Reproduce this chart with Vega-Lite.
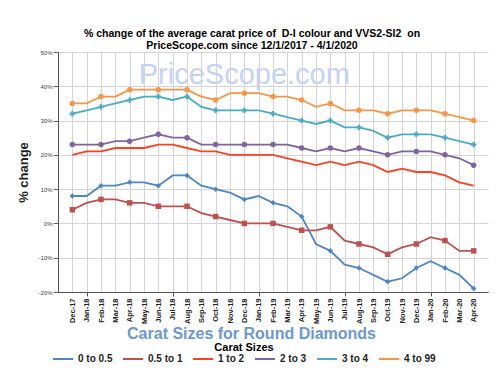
{
  "$schema": "https://vega.github.io/schema/vega-lite/v6.json",
  "width": 430,
  "height": 240,
  "autosize": {"type": "none"},
  "padding": {"left": 58, "top": 52, "right": 12, "bottom": 84},
  "background": "white",
  "config": {"font": "Liberation Sans", "view": {"stroke": null}},
  "title": {
    "text": ["% change of the average carat price of \u00a0D-I colour and VVS2-SI2 \u00a0on", "PriceScope.com since 12/1/2017 - 4/1/2020"],
    "fontSize": 10.5, "fontWeight": "bold", "color": "#000", "lineHeight": 12,
    "anchor": "middle", "dx": -21, "offset": -2
  },
  "data": {"values": [
    {"m":"Dec-17","s":"0 to 0.5","v":8},{"m":"Jan-18","s":"0 to 0.5","v":8},{"m":"Feb-18","s":"0 to 0.5","v":11},{"m":"Mar-18","s":"0 to 0.5","v":11},{"m":"Apr-18","s":"0 to 0.5","v":12},{"m":"May-18","s":"0 to 0.5","v":12},{"m":"Jun-18","s":"0 to 0.5","v":11},{"m":"Jul-18","s":"0 to 0.5","v":14},{"m":"Aug-18","s":"0 to 0.5","v":14},{"m":"Sep-18","s":"0 to 0.5","v":11},{"m":"Oct-18","s":"0 to 0.5","v":10},{"m":"Nov-18","s":"0 to 0.5","v":9},{"m":"Dec-18","s":"0 to 0.5","v":7},{"m":"Jan-19","s":"0 to 0.5","v":8},{"m":"Feb-19","s":"0 to 0.5","v":6},{"m":"Mar-19","s":"0 to 0.5","v":5},{"m":"Apr-19","s":"0 to 0.5","v":2},{"m":"May-19","s":"0 to 0.5","v":-6},{"m":"Jun-19","s":"0 to 0.5","v":-8},{"m":"Jul-19","s":"0 to 0.5","v":-12},{"m":"Aug-19","s":"0 to 0.5","v":-13},{"m":"Sep-19","s":"0 to 0.5","v":-15},{"m":"Oct-19","s":"0 to 0.5","v":-17},{"m":"Nov-19","s":"0 to 0.5","v":-16},{"m":"Dec-19","s":"0 to 0.5","v":-13},{"m":"Jan-20","s":"0 to 0.5","v":-11},{"m":"Feb-20","s":"0 to 0.5","v":-13},{"m":"Mar-20","s":"0 to 0.5","v":-15},{"m":"Apr-20","s":"0 to 0.5","v":-19},
    {"m":"Dec-17","s":"0.5 to 1","v":4},{"m":"Jan-18","s":"0.5 to 1","v":6},{"m":"Feb-18","s":"0.5 to 1","v":7},{"m":"Mar-18","s":"0.5 to 1","v":7},{"m":"Apr-18","s":"0.5 to 1","v":6},{"m":"May-18","s":"0.5 to 1","v":6},{"m":"Jun-18","s":"0.5 to 1","v":5},{"m":"Jul-18","s":"0.5 to 1","v":5},{"m":"Aug-18","s":"0.5 to 1","v":5},{"m":"Sep-18","s":"0.5 to 1","v":3},{"m":"Oct-18","s":"0.5 to 1","v":2},{"m":"Nov-18","s":"0.5 to 1","v":1},{"m":"Dec-18","s":"0.5 to 1","v":0},{"m":"Jan-19","s":"0.5 to 1","v":0},{"m":"Feb-19","s":"0.5 to 1","v":0},{"m":"Mar-19","s":"0.5 to 1","v":-1},{"m":"Apr-19","s":"0.5 to 1","v":-2},{"m":"May-19","s":"0.5 to 1","v":-2},{"m":"Jun-19","s":"0.5 to 1","v":-1},{"m":"Jul-19","s":"0.5 to 1","v":-5},{"m":"Aug-19","s":"0.5 to 1","v":-6},{"m":"Sep-19","s":"0.5 to 1","v":-7},{"m":"Oct-19","s":"0.5 to 1","v":-9},{"m":"Nov-19","s":"0.5 to 1","v":-7},{"m":"Dec-19","s":"0.5 to 1","v":-6},{"m":"Jan-20","s":"0.5 to 1","v":-4},{"m":"Feb-20","s":"0.5 to 1","v":-5},{"m":"Mar-20","s":"0.5 to 1","v":-8},{"m":"Apr-20","s":"0.5 to 1","v":-8},
    {"m":"Dec-17","s":"1 to 2","v":20},{"m":"Jan-18","s":"1 to 2","v":21},{"m":"Feb-18","s":"1 to 2","v":21},{"m":"Mar-18","s":"1 to 2","v":22},{"m":"Apr-18","s":"1 to 2","v":22},{"m":"May-18","s":"1 to 2","v":22},{"m":"Jun-18","s":"1 to 2","v":23},{"m":"Jul-18","s":"1 to 2","v":23},{"m":"Aug-18","s":"1 to 2","v":22},{"m":"Sep-18","s":"1 to 2","v":21},{"m":"Oct-18","s":"1 to 2","v":21},{"m":"Nov-18","s":"1 to 2","v":20},{"m":"Dec-18","s":"1 to 2","v":20},{"m":"Jan-19","s":"1 to 2","v":20},{"m":"Feb-19","s":"1 to 2","v":20},{"m":"Mar-19","s":"1 to 2","v":19},{"m":"Apr-19","s":"1 to 2","v":18},{"m":"May-19","s":"1 to 2","v":17},{"m":"Jun-19","s":"1 to 2","v":18},{"m":"Jul-19","s":"1 to 2","v":17},{"m":"Aug-19","s":"1 to 2","v":18},{"m":"Sep-19","s":"1 to 2","v":17},{"m":"Oct-19","s":"1 to 2","v":15},{"m":"Nov-19","s":"1 to 2","v":16},{"m":"Dec-19","s":"1 to 2","v":15},{"m":"Jan-20","s":"1 to 2","v":15},{"m":"Feb-20","s":"1 to 2","v":14},{"m":"Mar-20","s":"1 to 2","v":12},{"m":"Apr-20","s":"1 to 2","v":11},
    {"m":"Dec-17","s":"2 to 3","v":23},{"m":"Jan-18","s":"2 to 3","v":23},{"m":"Feb-18","s":"2 to 3","v":23},{"m":"Mar-18","s":"2 to 3","v":24},{"m":"Apr-18","s":"2 to 3","v":24},{"m":"May-18","s":"2 to 3","v":25},{"m":"Jun-18","s":"2 to 3","v":26},{"m":"Jul-18","s":"2 to 3","v":25},{"m":"Aug-18","s":"2 to 3","v":25},{"m":"Sep-18","s":"2 to 3","v":23},{"m":"Oct-18","s":"2 to 3","v":23},{"m":"Nov-18","s":"2 to 3","v":23},{"m":"Dec-18","s":"2 to 3","v":23},{"m":"Jan-19","s":"2 to 3","v":23},{"m":"Feb-19","s":"2 to 3","v":23},{"m":"Mar-19","s":"2 to 3","v":23},{"m":"Apr-19","s":"2 to 3","v":22},{"m":"May-19","s":"2 to 3","v":21},{"m":"Jun-19","s":"2 to 3","v":22},{"m":"Jul-19","s":"2 to 3","v":21},{"m":"Aug-19","s":"2 to 3","v":22},{"m":"Sep-19","s":"2 to 3","v":21},{"m":"Oct-19","s":"2 to 3","v":20},{"m":"Nov-19","s":"2 to 3","v":21},{"m":"Dec-19","s":"2 to 3","v":21},{"m":"Jan-20","s":"2 to 3","v":21},{"m":"Feb-20","s":"2 to 3","v":20},{"m":"Mar-20","s":"2 to 3","v":19},{"m":"Apr-20","s":"2 to 3","v":17},
    {"m":"Dec-17","s":"3 to 4","v":32},{"m":"Jan-18","s":"3 to 4","v":33},{"m":"Feb-18","s":"3 to 4","v":34},{"m":"Mar-18","s":"3 to 4","v":35},{"m":"Apr-18","s":"3 to 4","v":36},{"m":"May-18","s":"3 to 4","v":37},{"m":"Jun-18","s":"3 to 4","v":37},{"m":"Jul-18","s":"3 to 4","v":36},{"m":"Aug-18","s":"3 to 4","v":37},{"m":"Sep-18","s":"3 to 4","v":34},{"m":"Oct-18","s":"3 to 4","v":33},{"m":"Nov-18","s":"3 to 4","v":33},{"m":"Dec-18","s":"3 to 4","v":33},{"m":"Jan-19","s":"3 to 4","v":33},{"m":"Feb-19","s":"3 to 4","v":32},{"m":"Mar-19","s":"3 to 4","v":31},{"m":"Apr-19","s":"3 to 4","v":30},{"m":"May-19","s":"3 to 4","v":29},{"m":"Jun-19","s":"3 to 4","v":30},{"m":"Jul-19","s":"3 to 4","v":28},{"m":"Aug-19","s":"3 to 4","v":28},{"m":"Sep-19","s":"3 to 4","v":27},{"m":"Oct-19","s":"3 to 4","v":25},{"m":"Nov-19","s":"3 to 4","v":26},{"m":"Dec-19","s":"3 to 4","v":26},{"m":"Jan-20","s":"3 to 4","v":26},{"m":"Feb-20","s":"3 to 4","v":25},{"m":"Mar-20","s":"3 to 4","v":24},{"m":"Apr-20","s":"3 to 4","v":23},
    {"m":"Dec-17","s":"4 to 99","v":35},{"m":"Jan-18","s":"4 to 99","v":35},{"m":"Feb-18","s":"4 to 99","v":37},{"m":"Mar-18","s":"4 to 99","v":37},{"m":"Apr-18","s":"4 to 99","v":39},{"m":"May-18","s":"4 to 99","v":39},{"m":"Jun-18","s":"4 to 99","v":39},{"m":"Jul-18","s":"4 to 99","v":39},{"m":"Aug-18","s":"4 to 99","v":39},{"m":"Sep-18","s":"4 to 99","v":37},{"m":"Oct-18","s":"4 to 99","v":36},{"m":"Nov-18","s":"4 to 99","v":38},{"m":"Dec-18","s":"4 to 99","v":38},{"m":"Jan-19","s":"4 to 99","v":38},{"m":"Feb-19","s":"4 to 99","v":37},{"m":"Mar-19","s":"4 to 99","v":37},{"m":"Apr-19","s":"4 to 99","v":36},{"m":"May-19","s":"4 to 99","v":34},{"m":"Jun-19","s":"4 to 99","v":35},{"m":"Jul-19","s":"4 to 99","v":33},{"m":"Aug-19","s":"4 to 99","v":33},{"m":"Sep-19","s":"4 to 99","v":33},{"m":"Oct-19","s":"4 to 99","v":32},{"m":"Nov-19","s":"4 to 99","v":33},{"m":"Dec-19","s":"4 to 99","v":33},{"m":"Jan-20","s":"4 to 99","v":33},{"m":"Feb-20","s":"4 to 99","v":32},{"m":"Mar-20","s":"4 to 99","v":31},{"m":"Apr-20","s":"4 to 99","v":30}
  ]},
  "layer": [
    {
      "mark": {"type": "line", "strokeWidth": 1.8},
      "encoding": {
        "x": {
          "field": "m", "type": "ordinal", "sort": null,
          "scale": {"type": "point", "padding": 1, "domain": ["Dec-17","Jan-18","Feb-18","Mar-18","Apr-18","May-18","Jun-18","Jul-18","Aug-18","Sep-18","Oct-18","Nov-18","Dec-18","Jan-19","Feb-19","Mar-19","Apr-19","May-19","Jun-19","Jul-19","Aug-19","Sep-19","Oct-19","Nov-19","Dec-19","Jan-20","Feb-20","Mar-20","Apr-20"]},
          "axis": {
            "title": "Carat Sizes for Round Diamonds",
            "titleFontSize": 16, "titleFontWeight": "bold", "titleColor": "#6b98d4",
            "titleX": 193, "titleY": 41, "titleBaseline": "middle", "titleAlign": "center",
            "labelAngle": 270, "labelAlign": "right", "labelBaseline": "middle",
            "labelFontSize": 7.5, "labelFontWeight": "bold", "labelColor": "#222",
            "labelPadding": 2, "tickSize": 4, "tickColor": "#555",
            "tickOpacity": {"condition": {"test": "indexof(['Jan-18','Jul-18','Jan-19','Jul-19','Jan-20'], datum.value) >= 0", "value": 1}, "value": 0},
            "domainColor": "#555", "grid": true, "gridColor": "#d4d4d4"
          }
        },
        "y": {
          "field": "v", "type": "quantitative",
          "scale": {"domain": [-20, 50], "nice": false},
          "axis": {
            "title": "% change", "titleFontSize": 13, "titleFontWeight": "bold", "titleColor": "#222", "titlePadding": 7,
            "values": [-20, -10, 0, 10, 20, 30, 40, 50], "tickCount": 8,
            "labelExpr": "datum.value + '%'", "labelFontSize": 6, "labelColor": "#444", "labelPadding": 1,
            "tickSize": 5, "tickColor": "#666", "domainColor": "#555", "grid": true, "gridColor": "#d4d4d4"
          }
        },
        "color": {
          "field": "s", "type": "nominal", "sort": null,
          "scale": {
            "domain": ["0 to 0.5", "0.5 to 1", "1 to 2", "2 to 3", "3 to 4", "4 to 99"],
            "range": ["#4f86c6", "#c0504d", "#ff3f1f", "#8064a2", "#4bacc6", "#f79646"]
          },
          "legend": {
            "title": "Carat Sizes", "orient": "none", "legendX": -6, "legendY": 290,
            "direction": "horizontal", "columns": 6, "titleAnchor": "middle",
            "titleFontSize": 11, "titleFontWeight": "bold", "titleColor": "#000", "titlePadding": -5,
            "labelFontSize": 10, "labelFontWeight": "bold", "labelColor": "#222",
            "symbolType": "stroke", "symbolSize": 400, "symbolStrokeWidth": 2,
            "columnPadding": 6, "labelOffset": 4, "padding": 0, "offset": 0
          }
        }
      }
    },
    {
      "transform": [{"filter": "datum.s != '1 to 2' && indexof(['Dec','Feb','Apr','Jun','Aug','Oct'], substring(datum.m, 0, 3)) >= 0"}],
      "mark": {"type": "point", "filled": true, "opacity": 1},
      "encoding": {
        "x": {"field": "m", "type": "ordinal", "sort": null},
        "y": {"field": "v", "type": "quantitative"},
        "color": {"field": "s", "type": "nominal", "sort": null},
        "shape": {"field": "s", "type": "nominal", "scale": {"domain": ["0 to 0.5", "0.5 to 1", "2 to 3", "3 to 4", "4 to 99"], "range": ["diamond", "square", "circle", "cross", "circle"]}, "legend": null},
        "size": {"field": "s", "type": "nominal", "scale": {"domain": ["0 to 0.5", "0.5 to 1", "2 to 3", "3 to 4", "4 to 99"], "range": [30, 30, 12, 30, 30]}, "legend": null}
      }
    },
    {
      "data": {"values": [{"t": "PriceScope.com"}]},
      "mark": {"type": "text", "fontSize": 29, "baseline": "alphabetic", "align": "center", "color": "#c5d2f5"},
      "encoding": {
        "x": {"datum": "Dec-18", "type": "ordinal"},
        "y": {"datum": 40.7, "type": "quantitative"},
        "text": {"field": "t", "type": "nominal"}
      }
    }
  ]
}
